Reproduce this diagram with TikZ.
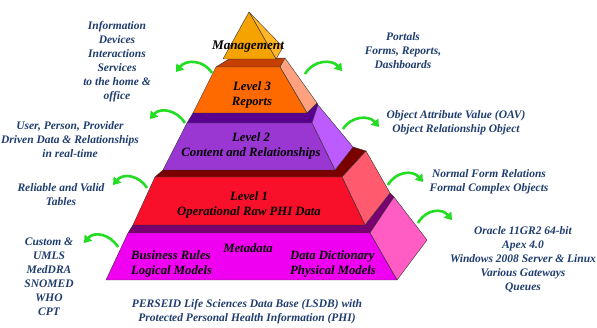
\documentclass[tikz,border=0pt]{standalone}
\usepackage{fontspec}
\setmainfont{Liberation Serif}
\usetikzlibrary{arrows.meta}
\definecolor{navy}{HTML}{1F3D6E}
\definecolor{agreen}{HTML}{22DD22}
\definecolor{mgfront}{HTML}{F5A300}
\definecolor{mgside}{HTML}{FFB627}
\definecolor{lthreef}{HTML}{FF6A00}
\definecolor{lthreet}{HTML}{C43F00}
\definecolor{lthrees}{HTML}{FFA07E}
\definecolor{ltwof}{HTML}{9A36D2}
\definecolor{ltwot}{HTML}{5A0090}
\definecolor{ltwos}{HTML}{BC5CFF}
\definecolor{lonef}{HTML}{F8102A}
\definecolor{lonet}{HTML}{7A0000}
\definecolor{lones}{HTML}{FF5A6E}
\definecolor{lzerof}{HTML}{F000F0}
\definecolor{lzerot}{HTML}{780070}
\definecolor{lzeros}{HTML}{FF5CC4}
\begin{document}
\begin{tikzpicture}[x=1pt,y=-1pt,
  face/.style={draw=black!80, line width=0.4pt, line join=round},
  sidetext/.style={font=\bfseries\itshape\fontsize{11.5}{14}\selectfont, text=navy, align=center, inner sep=0pt},
  lbl/.style={font=\bfseries\itshape\fontsize{12.7}{15}\selectfont, text=black, align=center, inner sep=0pt},
  garrow/.style={draw=agreen, line width=2.6pt, -{Triangle[width=9.5pt,length=7pt]}}]
\useasboundingbox[fill=white] (0,0) rectangle (597,328);

% Level 0 (metadata)
\fill[lzerot,face] (128,233) -- (370,233) -- (394,197) -- (390,193) -- (365,225) -- (133,225) -- cycle;
\fill[lzeros,face] (370,233) -- (394,197) -- (427,240) -- (397,280) -- cycle;
\fill[lzerof,face] (128,233) -- (370,233) -- (397,280) -- (106,280) -- cycle;
% Level 1
\fill[lonet,face] (155,177) -- (342,177) -- (366,151) -- (353,147) -- (335,170) -- (163,170) -- cycle;
\fill[lones,face] (342,177) -- (366,151) -- (390,193) -- (365,225) -- cycle;
\fill[lonef,face] (155,177) -- (342,177) -- (365,225) -- (133,225) -- cycle;
% Level 2
\fill[ltwot,face] (187,123) -- (312,123) -- (318,105) -- (317,103) -- (307,113) -- (193,113) -- cycle;
\fill[ltwos,face] (312,123) -- (318,105) -- (353,147) -- (335,170) -- cycle;
\fill[ltwof,face] (187,123) -- (312,123) -- (335,170) -- (163,170) -- cycle;
% Level 3
\fill[lthreet,face] (216,67) -- (280,67) -- (285,58) -- (229,59) -- cycle;
\fill[lthrees,face] (280,67) -- (285,58) -- (317,103) -- (307,113) -- cycle;
\fill[lthreef,face] (216,67) -- (280,67) -- (307,113) -- (193,113) -- cycle;
% Management pyramid
\fill[mgside,face] (249,12) -- (283,47) -- (276,59) -- cycle;
\fill[mgfront,face] (249,12) -- (276,59) -- (223,59) -- cycle;

% pyramid labels
\node[lbl,font=\bfseries\itshape\fontsize{13.2}{15}\selectfont] (mgmt) at (248,47) {Management};
\node[lbl] (l3) at (252,94.5) {Level 3\\Reports};
\node[lbl] (l2) at (251,145.5) {Level 2\\Content and Relationships};
\node[lbl] (l1) at (249,204.5) {Level 1\\Operational Raw PHI Data};
\node[lbl] (meta) at (248,248) {Metadata};
\node[lbl,align=left,anchor=west] (brules) at (131,264) {Business Rules\\Logical Models};
\node[lbl,align=left,anchor=west] (ddict) at (290,264) {Data Dictionary\\Physical Models};

% side texts
\node[sidetext] (info) at (117,62) {Information\\Devices\\Interactions\\Services\\to the home \&\\office};
\node[sidetext] (user) at (70,139.5) {User, Person, Provider\\Driven Data \& Relationships\\in real-time};
\node[sidetext] (reliable) at (61,194.5) {Reliable and Valid\\Tables};
\node[sidetext] (custom) at (49,276.5) {Custom \&\\UMLS\\MedDRA\\SNOMED\\WHO\\CPT};
\node[sidetext] (perseid) at (247,311.5) {PERSEID Life Sciences Data Base (LSDB) with\\Protected Personal Health Information (PHI)};
\node[sidetext] (portals) at (403,51) {Portals\\Forms, Reports,\\Dashboards};
\node[sidetext] (oav) at (456,122.5) {Object Attribute Value (OAV)\\Object Relationship Object};
\node[sidetext] (normal) at (489,182) {Normal Form Relations\\Formal Complex Objects};
\node[sidetext] (oracle) at (523,259.5) {Oracle 11GR2 64-bit\\Apex 4.0\\Windows 2008 Server \& Linux\\Various Gateways\\Queues};

% arrow end points
\coordinate (t1) at (212,73); \coordinate (h1) at (176,72);
\coordinate (t2) at (185,123); \coordinate (h2) at (150,119);
\coordinate (t3) at (147,188); \coordinate (h3) at (113,185);
\coordinate (t4) at (118,247); \coordinate (h4) at (84,243);
\coordinate (t5) at (305,74); \coordinate (h5) at (342,71);
\coordinate (t6) at (343,129); \coordinate (h6) at (379,127);
\coordinate (t7) at (388,185); \coordinate (h7) at (423,182);
\coordinate (t8) at (418,223); \coordinate (h8) at (452,220);

\draw[garrow] (t1) .. controls (204,60) and (186,59) .. (h1);
\draw[garrow] (t2) .. controls (177,110) and (160,107) .. (h2);
\draw[garrow] (t3) .. controls (139,175) and (123,173) .. (h3);
\draw[garrow] (t4) .. controls (110,234) and (94,231) .. (h4);
\draw[garrow] (t5) .. controls (313,60) and (332,59) .. (h5);
\draw[garrow] (t6) .. controls (351,116) and (369,115) .. (h6);
\draw[garrow] (t7) .. controls (396,171) and (413,170) .. (h7);
\draw[garrow] (t8) .. controls (426,209) and (442,208) .. (h8);
\end{tikzpicture}
\end{document}
